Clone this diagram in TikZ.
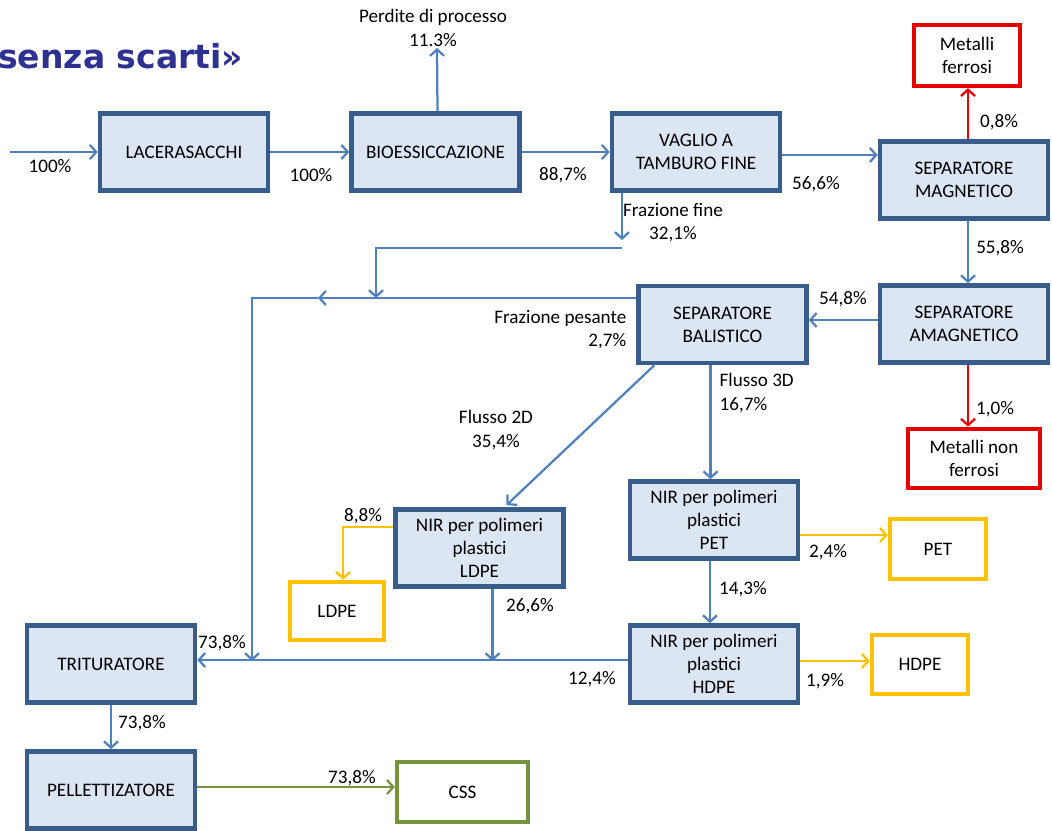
\documentclass[tikz,border=0pt]{standalone}
\usepackage{fontspec}
\setmainfont{Carlito}
\newfontfamily\titlefont{DejaVu Sans}
\usepackage{tikz}
\usetikzlibrary{arrows.meta,calc}
\usepackage{xcolor}
\definecolor{boxfill}{HTML}{DCE6F2}
\definecolor{boxline}{HTML}{385D8A}
\definecolor{flowblue}{HTML}{4F81BD}
\definecolor{redline}{HTML}{E60000}
\definecolor{yelline}{HTML}{FFC000}
\definecolor{grnline}{HTML}{77933C}
\definecolor{titleblue}{HTML}{2E3192}
\tikzset{
  every node/.style={font=\fontsize{13.6}{16.5}\selectfont},
  proc/.style={draw=boxline,fill=boxfill,line width=3.2pt,minimum width=4.2cm,minimum height=1.93cm,align=center,inner sep=1pt},
  prod/.style={draw=#1,fill=white,line width=3.2pt,align=center,inner sep=1pt},
  lbl/.style={inner sep=1pt,align=center},
  flow/.style={draw=flowblue,line width=1.6pt},
  tip/.style={-{Straight Barb[length=4.5pt,width=10pt,line width=1.6pt]}},
}

\begin{document}
\begin{tikzpicture}[x=0.025cm,y=-0.025cm]
  \useasboundingbox (0,0) rectangle (1052,830);
  \clip (0,0) rectangle (1052,830);
  \node[anchor=west,inner sep=0,text=titleblue,font=\titlefont\bfseries\fontsize{23.5}{26}\selectfont] (title) at (-2,56) {senza scarti»};
  % process boxes
  \node[proc] (lac) at (184,152) {LACERASACCHI};
  \node[proc] (bio) at (435.5,152) {BIOESSICCAZIONE};
  \node[proc] (vag) at (696,152) {VAGLIO A\\TAMBURO FINE};
  \node[proc] (mag) at (964,180) {SEPARATORE\\MAGNETICO};
  \node[proc] (amag) at (964,324) {SEPARATORE\\AMAGNETICO};
  \node[proc] (bal) at (722.5,324.5) {SEPARATORE\\BALISTICO};
  \node[proc] (nirl) at (479.5,548) {NIR per polimeri\\plastici\\LDPE};
  \node[proc] (nirp) at (714,520) {NIR per polimeri\\plastici\\PET};
  \node[proc] (nirh) at (714,664) {NIR per polimeri\\plastici\\HDPE};
  \node[proc] (trit) at (111,664) {TRITURATORE};
  \node[proc] (pell) at (111,790) {PELLETTIZATORE};
  % output boxes
  \node[prod=redline,minimum width=2.65cm,minimum height=1.52cm] (fer) at (967,55.5) {Metalli\\ferrosi};
  \node[prod=redline,minimum width=3.3cm,minimum height=1.48cm] (nfer) at (974,458.5) {Metalli non\\ferrosi};
  \node[prod=yelline,minimum width=2.35cm,minimum height=1.45cm] (ldpe) at (337,611) {LDPE};
  \node[prod=yelline,minimum width=2.4cm,minimum height=1.5cm] (pet) at (938,549) {PET};
  \node[prod=yelline,minimum width=2.4cm,minimum height=1.48cm] (hdpe) at (920,664.5) {HDPE};
  \node[prod=grnline,minimum width=3.27cm,minimum height=1.5cm] (css) at (462.5,792) {CSS};
  % free ends
  \coordinate (in) at (10,152);
  \coordinate (fine) at (622,240);
  \coordinate (fj) at (622,248);
  \coordinate (fk) at (376,248);
  \coordinate (hv) at (318,298);
  \coordinate (hc) at (252,298);
  \node[lbl] (perd) at (433,28) {Perdite di processo\\11.3\%};
  % connectors
  \draw[flow,tip] (in) -- (lac);
  \draw[flow,tip] (lac) -- (bio);
  \draw[flow,tip] (bio) -- (vag);
  \draw[flow,tip] ($(bio.north)+(2,0)$) -- ($(perd.south)+(4,0)$);
  \draw[flow,tip] ($(vag.east)+(0,3)$) coordinate (va) -- (va -| mag.west);
  \draw[redline,line width=1.6pt,tip] ($(mag.north)+(4,0)$) coordinate (ma) -- (ma |- fer.south);
  \draw[flow,tip] ($(mag.south)+(4,0)$) coordinate (mb) -- (mb |- amag.north);
  \draw[redline,line width=1.6pt,tip] ($(amag.south)+(4,0)$) coordinate (mc) -- (mc |- nfer.north);
  \draw[flow,tip] ($(amag.west)+(0,-4)$) coordinate (aa) -- (aa -| bal.east);
  \draw[flow,tip] (fine |- vag.south) -- (fine);
  \draw[flow,tip] (fj) -- (fk) -- (fk |- hv);
  \draw[flow,tip] (bal.west |- hv) -- (hv);
  \draw[flow,tip] (hv) -- (hc) -- ($(hc |- trit.east)+(0,-3)$);
  \draw[flow,tip] ($(bal.south west)+(18,0)$) -- ($(nirl.north)+(27,-2)$);
  \draw[flow,tip] ($(bal.south)+(-12,0)$) coordinate (ba) -- (ba |- nirp.north);
  \draw[yelline,line width=1.6pt,tip] ($(nirl.west)+(0,-21)$) -| ($(ldpe.north)+(6,0)$);
  \draw[flow,tip] ($(nirl.south)+(13,0)$) coordinate (la) -- ($(la |- trit.east)+(0,-3)$);
  \draw[yelline,line width=1.6pt,tip] ($(nirp.east)+(0,15)$) coordinate (pa) -- (pa -| pet.west);
  \draw[flow,tip] ($(nirp.south)+(-4,0)$) coordinate (pb) -- (pb |- nirh.north);
  \draw[yelline,line width=1.6pt,tip] ($(nirh.east)+(0,-3)$) coordinate (ha) -- (ha -| hdpe.west);
  \draw[flow,tip] ($(nirh.west)+(0,-4)$) coordinate (hb) -- (hb -| trit.east);
  \draw[flow,tip] (trit) -- (pell);
  \draw[grnline,line width=1.6pt,tip] ($(pell.east)+(0,-3)$) coordinate (pc) -- (pc -| css.west);
  % labels
  \node[lbl] (l1) at (50,166) {100\%};
  \node[lbl] (l2) at (311,175) {100\%};
  \node[lbl] (l3) at (563,175) {88,7\%};
  \node[lbl] (l4) at (673,223) {Frazione fine\\32,1\%};
  \node[lbl] (l5) at (816,184) {56,6\%};
  \node[lbl] (l6) at (999,122) {0,8\%};
  \node[lbl] (l7) at (1000,248) {55,8\%};
  \node[lbl] (l8) at (843,299) {54,8\%};
  \node[lbl] (l9) at (995,409) {1,0\%};
  \node[lbl,anchor=east,align=right] (l10) at (628,330) {Frazione pesante\\2,7\%};
  \node[lbl,anchor=west,align=left] (l11) at (718,393) {Flusso 3D\\16,7\%};
  \node[lbl] (l12) at (496,430) {Flusso 2D\\35,4\%};
  \node[lbl] (l13) at (363,516) {8,8\%};
  \node[lbl] (l14) at (530,606) {26,6\%};
  \node[lbl] (l15) at (222,643) {73,8\%};
  \node[lbl] (l16) at (592,679) {12,4\%};
  \node[lbl] (l17) at (828,552) {2,4\%};
  \node[lbl] (l18) at (743,589) {14,3\%};
  \node[lbl] (l19) at (825,681) {1,9\%};
  \node[lbl] (l20) at (142,723) {73,8\%};
  \node[lbl] (l21) at (352,778) {73,8\%};
\end{tikzpicture}
\end{document}
